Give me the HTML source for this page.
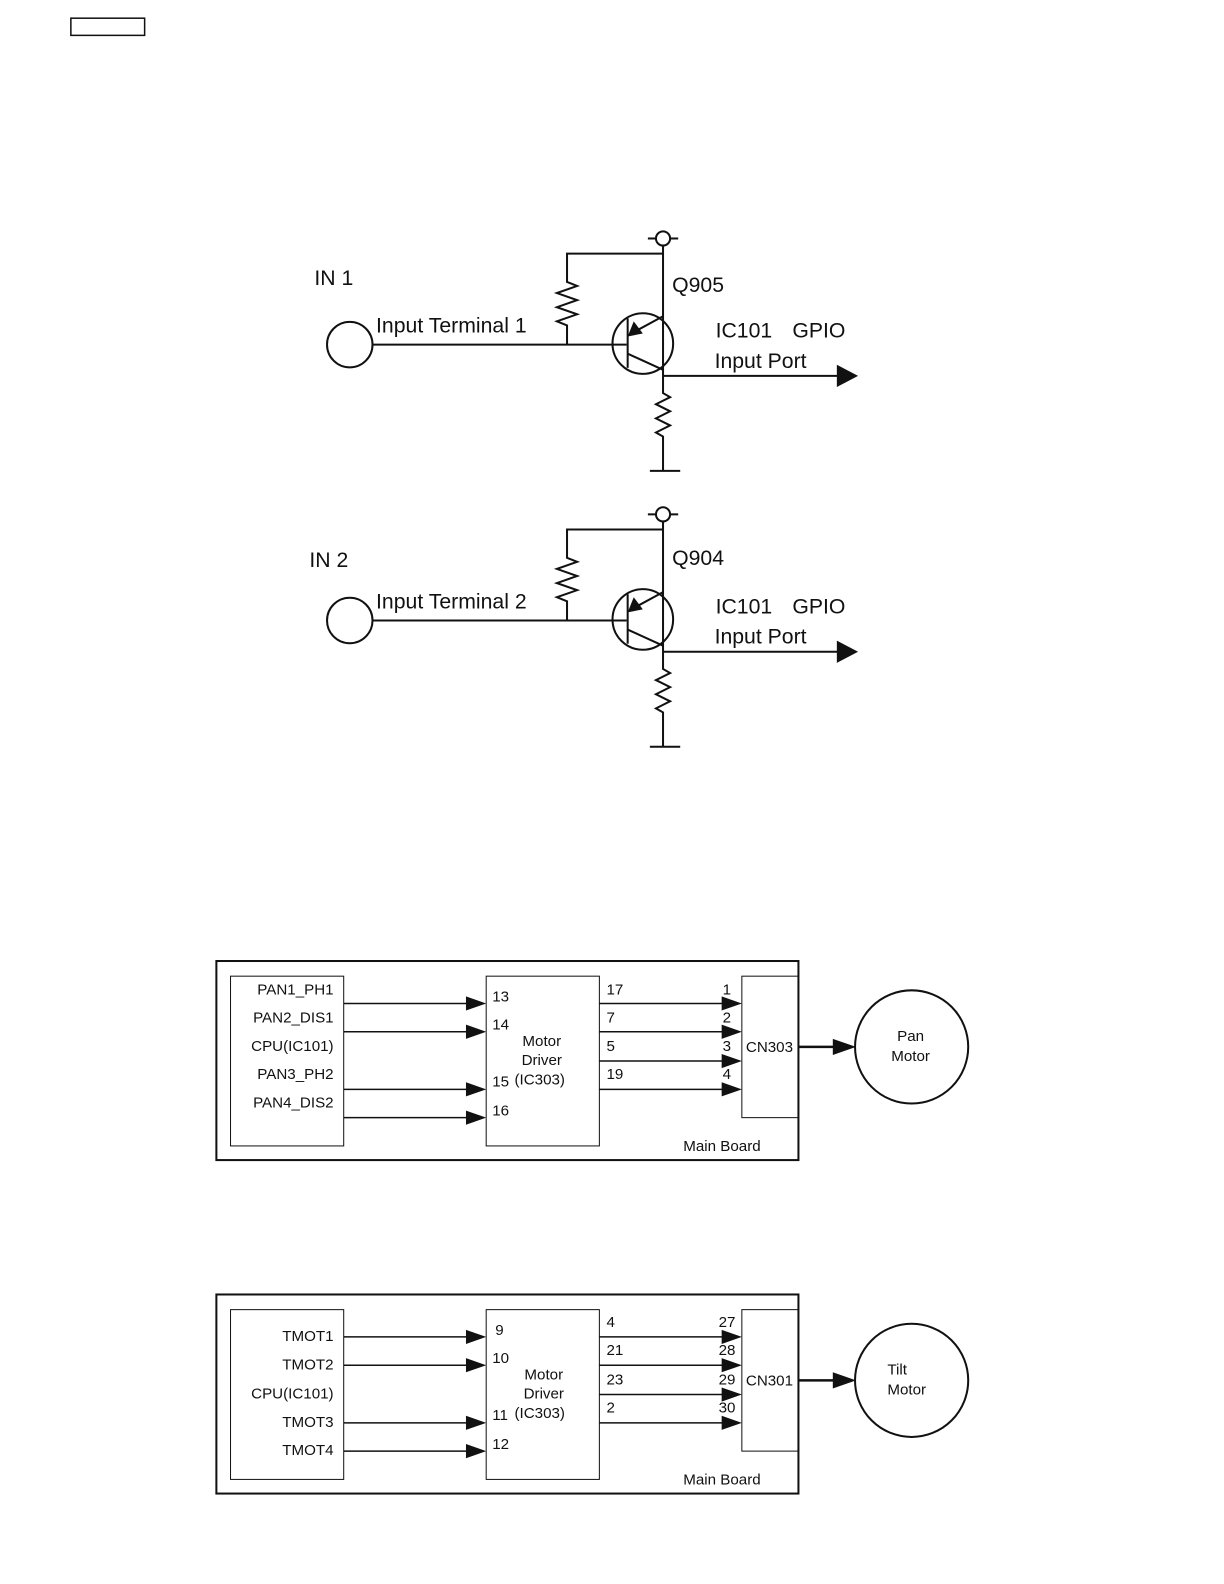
<!DOCTYPE html>
<html><head><meta charset="utf-8"><style>
html,body{margin:0;padding:0;background:#fff;}
svg{display:block;}
text{font-family:"Liberation Sans",sans-serif;fill:#111;}
</style></head><body>
<svg width="1224" height="1584" viewBox="0 0 1211 1567.5" xmlns="http://www.w3.org/2000/svg">
<defs>
<g id="circ" stroke="#111" stroke-width="2" fill="none">
  <circle cx="656" cy="236" r="7"/>
  <line x1="641" y1="236" x2="649" y2="236"/><line x1="663" y1="236" x2="671" y2="236"/>
  <polyline points="656,243 656,389 663,393 649,400 663,407 649,414 663,421 649,428 656,432 656,466"/>
  <line x1="643" y1="466" x2="673" y2="466"/>
  <polyline points="656,251 561,251 561,279 571,283 551,290 571,297 551,304 571,311 551,318 561,322 561,341"/>
  <circle cx="346" cy="341" r="22.5"/>
  <line x1="369" y1="341" x2="620" y2="341"/>
  <circle cx="636" cy="340" r="30"/>
  <line x1="621" y1="315" x2="621" y2="364"/>
  <line x1="656" y1="313" x2="632" y2="326"/>
  <line x1="621" y1="350" x2="656" y2="366"/>
  <line x1="656" y1="372" x2="830" y2="372"/>
  <polygon points="621,333 627,318 636,330" fill="#111" stroke="none"/>
  <polygon points="828,361 849,372 828,383" fill="#111" stroke="none"/>
</g>
<g id="blk" stroke="#111" fill="none">
  <rect x="214" y="951" width="576" height="197" stroke-width="2"/>
  <rect x="228" y="966" width="112" height="168" stroke-width="1"/>
  <rect x="481" y="966" width="112" height="168" stroke-width="1"/>
  <rect x="734" y="966" width="56" height="140" stroke-width="1"/>
  <g stroke-width="1.5">
    <line x1="340" y1="993" x2="465" y2="993"/><line x1="340" y1="1021" x2="465" y2="1021"/>
    <line x1="340" y1="1078" x2="465" y2="1078"/><line x1="340" y1="1106" x2="465" y2="1106"/>
    <line x1="593" y1="993" x2="718" y2="993"/><line x1="593" y1="1021" x2="718" y2="1021"/>
    <line x1="593" y1="1050" x2="718" y2="1050"/><line x1="593" y1="1078" x2="718" y2="1078"/>
  </g>
  <line x1="790" y1="1036" x2="828" y2="1036" stroke-width="2.5"/>
  <circle cx="902" cy="1036" r="56" stroke-width="2"/>
  <g fill="#111" stroke="none">
    <polygon points="461,986 481,993 461,1000"/><polygon points="461,1014 481,1021 461,1028"/>
    <polygon points="461,1071 481,1078 461,1085"/><polygon points="461,1099 481,1106 461,1113"/>
    <polygon points="714,986 734,993 714,1000"/><polygon points="714,1014 734,1021 714,1028"/>
    <polygon points="714,1043 734,1050 714,1057"/><polygon points="714,1071 734,1078 714,1085"/>
    <polygon points="824,1028 847,1036 824,1044"/>
  </g>
</g>
</defs>
<rect x="70" y="18" width="73" height="17" fill="none" stroke="#111" stroke-width="1.5"/>

<use href="#circ"/>
<use href="#circ" transform="translate(0,273)"/>
<g font-size="21">
<text x="311" y="282">IN 1</text>
<text x="372" y="329">Input Terminal 1</text>
<text x="665" y="289">Q905</text>
<text x="708" y="334">IC101</text><text x="784" y="334">GPIO</text>
<text x="707" y="364">Input Port</text>
<text x="306" y="561">IN 2</text>
<text x="372" y="602">Input Terminal 2</text>
<text x="665" y="559">Q904</text>
<text x="708" y="607">IC101</text><text x="784" y="607">GPIO</text>
<text x="707" y="637">Input Port</text>
</g>

<use href="#blk"/>
<use href="#blk" transform="translate(0,330)"/>
<g font-size="15">
<g text-anchor="end">
<text x="330" y="984">PAN1_PH1</text><text x="330" y="1012">PAN2_DIS1</text>
<text x="330" y="1040">CPU(IC101)</text><text x="330" y="1068">PAN3_PH2</text>
<text x="330" y="1096">PAN4_DIS2</text>
</g>
<text x="487" y="991">13</text><text x="487" y="1019">14</text>
<text x="487" y="1075">15</text><text x="487" y="1104">16</text>
<text x="600" y="984">17</text><text x="600" y="1012">7</text>
<text x="600" y="1040">5</text><text x="600" y="1068">19</text>
<text x="715" y="984">1</text><text x="715" y="1012">2</text>
<text x="715" y="1040">3</text><text x="715" y="1068">4</text>
<text x="536" y="1035" text-anchor="middle">Motor</text>
<text x="536" y="1054" text-anchor="middle">Driver</text>
<text x="509" y="1073">(IC303)</text>
<text x="738" y="1041">CN303</text>
<text x="676" y="1139">Main Board</text>
<text x="901" y="1030" text-anchor="middle">Pan</text>
<text x="901" y="1050" text-anchor="middle">Motor</text>

<g text-anchor="end">
<text x="330" y="1327">TMOT1</text><text x="330" y="1355">TMOT2</text>
<text x="330" y="1384">CPU(IC101)</text><text x="330" y="1412">TMOT3</text>
<text x="330" y="1440">TMOT4</text>
</g>
<text x="490" y="1321">9</text><text x="487" y="1349">10</text>
<text x="487" y="1405">11</text><text x="487" y="1434">12</text>
<text x="600" y="1313">4</text><text x="600" y="1341">21</text>
<text x="600" y="1370">23</text><text x="600" y="1398">2</text>
<text x="711" y="1313">27</text><text x="711" y="1341">28</text>
<text x="711" y="1370">29</text><text x="711" y="1398">30</text>
<text x="538" y="1365" text-anchor="middle">Motor</text>
<text x="538" y="1384" text-anchor="middle">Driver</text>
<text x="509" y="1403">(IC303)</text>
<text x="738" y="1371">CN301</text>
<text x="676" y="1469">Main Board</text>
<text x="878" y="1360">Tilt</text>
<text x="878" y="1380">Motor</text>
</g>
</svg>
</body></html>
